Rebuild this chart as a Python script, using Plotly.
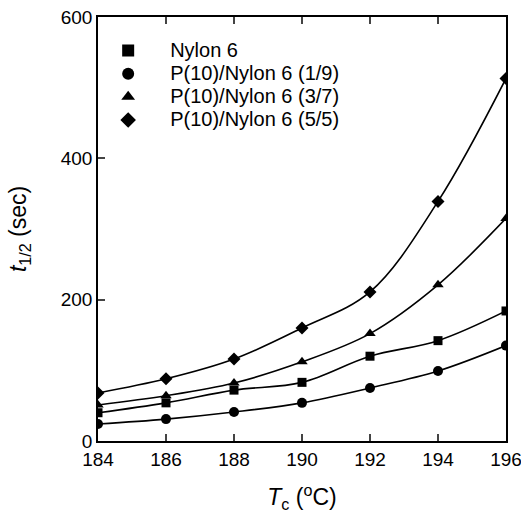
import plotly.graph_objects as go

tc = [184, 186, 188, 190, 192, 194, 196]
nylon6 = [40, 54, 72, 83, 120, 142, 184]
blend_19 = [24, 31, 41, 54, 75, 99, 135]
blend_37 = [51, 64, 82, 112, 152, 221, 315]
blend_55 = [68, 88, 116, 160, 211, 339, 513]

series = [
    ("Nylon 6", nylon6, "square", 9),
    ("P(10)/Nylon 6 (1/9)", blend_19, "circle", 10),
    ("P(10)/Nylon 6 (3/7)", blend_37, "triangle-up", 10),
    ("P(10)/Nylon 6 (5/5)", blend_55, "diamond", 10),
]

fig = go.Figure()
for name, ys, sym, sz in series:
    fig.add_trace(go.Scatter(x=tc, y=ys, mode="lines", showlegend=False,
                             line=dict(color="black", width=1.6, shape="spline", smoothing=1.0),
                             hoverinfo="skip"))
for name, ys, sym, sz in series:
    fig.add_trace(go.Scatter(x=tc, y=ys, mode="markers",
                             name="<span style='font-size:20px'>" + name + "</span>",
                             marker=dict(symbol=sym, size=sz, color="black")))

font = "Liberation Sans, Arial, Helvetica, sans-serif"
fig.update_layout(
    width=521, height=513,
    margin=dict(l=98, r=15, t=17, b=72),
    plot_bgcolor="white", paper_bgcolor="white",
    font=dict(family=font, size=19, color="black"),
    legend=dict(x=-0.029, y=0.96, xanchor="left", yanchor="top",
                bgcolor="rgba(0,0,0,0)", font=dict(size=15.5), tracegroupgap=0,
                itemsizing="constant", itemwidth=74),
    xaxis=dict(range=[184, 196], tickvals=[184, 186, 188, 190, 192, 194, 196],
               ticks="inside", ticklen=7, tickwidth=1.5, showline=True, linecolor="black",
               linewidth=1.5, mirror="ticks", showgrid=False, zeroline=False,
               ticklabeloverflow="allow", automargin=False,
               title=dict(text="<i>T</i><sub>c</sub> (<sup>o</sup>C)", standoff=24),
               tickfont=dict(size=19)),
    yaxis=dict(range=[0, 600], tickvals=[0, 200, 400, 600],
               ticks="inside", ticklen=7, tickwidth=1.5, showline=True, linecolor="black",
               linewidth=1.5, mirror=True, showgrid=False, zeroline=False,
               automargin=False,
               title=dict(text="<i>t</i><sub>1/2</sub> (sec)", standoff=28),
               tickfont=dict(size=19)),
)
fig.write_html("out.html", config={"displayModeBar": False},
               post_script="document.body.style.margin='0';document.body.style.overflow='hidden';")
